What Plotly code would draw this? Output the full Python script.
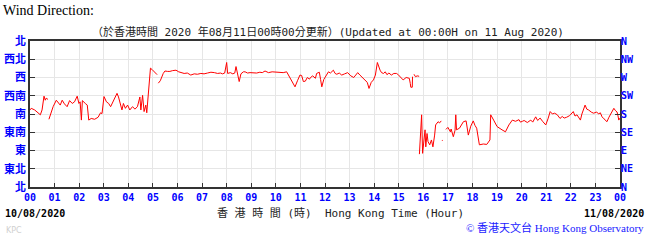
import plotly.graph_objects as go

# ---- data (hours since 00:00 10/08/2020, wind direction in degrees; None = gap)
hours = [
    0.00, 0.05, 0.19, 0.33, 0.42, 0.49, 0.57, 0.62, 0.66, 0.73, None,
    0.77, 0.94, 1.07, 1.12, 1.23, 1.31, 1.40, 1.51, 1.61, 1.72, 1.81, 1.92, 1.99,
    2.04, 2.09, 2.13, 2.20, 2.25, 2.33, 2.39, 2.49, 2.63, 2.77, 2.87, 2.93, 3.01,
    3.11, 3.20, 3.28, 3.38, 3.47, 3.54, 3.60, 3.68, 3.74, 3.80, 3.88, 3.97, 4.06,
    4.17, 4.27, 4.37, 4.47, 4.51, 4.58, 4.64, 4.71, 4.75, 4.84, 4.90, 4.96, 5.06,
    5.17, None,
    5.22, 5.30, 5.42, 5.49, 5.60, 5.69, 5.80, 5.94, 6.05, 6.27, 6.40, 6.54, 6.68,
    6.81, 6.95, 7.08, 7.22, 7.36, 7.50, 7.63, 7.75, 7.83, 7.92, 8.00, 8.04, 8.15,
    8.25, 8.33, 8.38, 8.44, 8.51, 8.58, 8.68, 8.75, 8.85, 8.95, 9.08, 9.22, 9.35,
    9.45, 9.56, 9.70, 9.85, 10.03, 10.15, 10.30, 10.44, 10.55, 10.65, 10.78, 10.88,
    10.98, 11.05, 11.12, 11.20, 11.28, 11.37, 11.41, 11.50, 11.61, 11.66, 11.77,
    11.82, 11.87, 11.95, 12.07, 12.14, 12.22, 12.34, 12.41, 12.48, 12.58, 12.68,
    12.80, 12.92, 13.05, 13.17, 13.25, 13.33, 13.42, 13.51, 13.62, 13.72, 13.79,
    13.88, 13.97, 14.05, 14.13, 14.20, 14.24, 14.30, 14.38, 14.45, 14.52, 14.60,
    14.70, 14.80, 14.91, 14.96, 15.05, 15.18, 15.30, 15.43, 15.47, 15.49, 15.55,
    15.56, None,
    15.62, 15.68, 15.75, 15.83, None,
    15.84, 15.88, 15.93, 15.97, 16.02, 16.07, 16.10, 16.15, 16.19, 16.26, 16.33,
    16.39, 16.46, 16.50, 16.60, 16.66, 16.73, None,
    16.77, 16.78, None,
    16.92, 17.00, 17.10, 17.13, 17.22, 17.29, 17.32, 17.35, 17.47, 17.55, 17.63,
    17.74, 17.83, 17.93, 18.03, 18.10, 18.17, 18.28, 18.44, 18.58, 18.71, 18.74,
    18.80, 18.86, 19.00, 19.10, 19.20, 19.34, 19.48, 19.62, 19.75, 19.89, 19.95,
    20.03, 20.10, 20.23, 20.30, 20.37, 20.45, 20.57, 20.65, 20.75, 20.85, 20.98,
    21.07, 21.16, 21.25, 21.34, 21.45, 21.56, 21.65, 21.73, 21.83, 21.95, 22.10,
    22.17, 22.25, 22.32, 22.39, 22.45, 22.58, 22.65, 22.72, 22.85, 22.93, 23.05,
    23.13, 23.20, 23.27, 23.35, 23.47, 23.55, 23.60, 23.75, 23.82, 23.88, 23.92,
    23.95, 24.00,
]
direction = [
    190, 194, 190, 182, 178, 190, 224, 214, 219, 216, None,
    167, 198, 214, 210, 202, 214, 205, 198, 213, 206, 210, 224, 206,
    210, 165, 213, 208, 206, 202, 165, 169, 167, 172, 183, 181, 223,
    210, 206, 198, 210, 222, 231, 222, 206, 190, 206, 194, 202, 190,
    198, 192, 198, 222, 190, 226, 186, 202, 183, 247, 293, 290, 284,
    277, None,
    256, 262, 280, 286, 285, 285, 287, 288, 284, 280, 281, 276, 279,
    278, 280, 279, 281, 283, 282, 280, 281, 279, 281, 307, 280, 282,
    279, 281, 297, 281, 260, 279, 284, 284, 281, 282, 281, 281, 283,
    282, 286, 282, 284, 283, 281, 282, 284, 272, 262, 247, 262,
    276, 275, 260, 261, 270, 266, 270, 274, 268, 280, 283,
    265, 247, 265, 279, 284, 281, 288, 280, 278, 281, 276,
    279, 282, 274, 270, 276, 282, 276, 270, 262, 258, 243,
    258, 264, 276, 307, 294, 288, 282, 280, 284, 277, 281,
    276, 280, 280, 278, 272, 264, 270, 268, 255, 246, 246,
    272, None,
    278, 272, 274, 273, None,
    81, 120, 178, 83, 120, 141, 99, 132, 112, 104, 116,
    99, 128, 153, 161, 158, 163, None,
    114, 116, None,
    142, 147, 136, 143, 124, 140, 178, 141, 145, 155, 161,
    163, 128, 150, 163, 152, 145, 104, 106, 105, 116, 178,
    170, 165, 149, 146, 141, 136, 153, 165, 162, 166, 160,
    162, 164, 159, 163, 165, 160, 173, 164, 170, 162, 153,
    168, 186, 180, 182, 178, 169, 174, 170, 172, 176, 186,
    175, 178, 170, 165, 180, 202, 192, 190, 184, 182, 185,
    180, 183, 173, 168, 161, 172, 178, 194, 188, 185, 175,
    165, 170,
]

dir_degrees = [0, 45, 90, 135, 180, 225, 270, 315, 360]
dir_labels_zh = ["北", "東北", "東", "東南", "南", "西南", "西", "西北", "北"]
dir_labels_en = ["N", "NE", "E", "SE", "S", "SW", "W", "NW", "N"]
hour_ticks = list(range(25))
hour_labels = ["%02d" % (h % 24) for h in hour_ticks]

BLUE = "#0000ff"
MONO = "DejaVu Sans Mono"
W, H = 656, 241
ML, MR, MT, MB = 30, 36, 41, 54

fig = go.Figure()
fig.add_trace(go.Scatter(x=hours, y=direction, mode="lines",
                         line=dict(color="#ff0000", width=1),
                         connectgaps=False, hoverinfo="skip", showlegend=False))
# invisible trace to activate the right axis
fig.add_trace(go.Scatter(x=[None], y=[None], yaxis="y2", showlegend=False))

fig.update_layout(
    width=W, height=H,
    margin=dict(l=ML, r=MR, t=MT, b=MB),
    paper_bgcolor="white", plot_bgcolor="white",
    xaxis=dict(range=[0, 24], tickvals=hour_ticks, ticktext=hour_labels,
               tickfont=dict(family=MONO, size=10, color=BLUE, weight="bold"),
               ticks="inside", ticklen=4, tickcolor="#333333",
               showgrid=True, gridcolor="#e6e6e6", gridwidth=1,
               showline=True, linecolor="#333333", linewidth=1.5, mirror=True,
               zeroline=False, fixedrange=True, automargin=False),
    yaxis=dict(range=[0, 360], tickvals=dir_degrees, ticktext=dir_labels_zh,
               tickfont=dict(family="Noto Sans CJK TC", size=11, color=BLUE, weight="bold"),
               ticks="inside", ticklen=5, tickcolor="#333333",
               showgrid=True, gridcolor="#e6e6e6", gridwidth=1,
               showline=True, linecolor="#333333", linewidth=1.5, mirror=True,
               zeroline=False, fixedrange=True, automargin=False),
    yaxis2=dict(range=[0, 360], tickvals=dir_degrees, ticktext=dir_labels_en,
                overlaying="y", side="right",
                tickfont=dict(family=MONO, size=10, color=BLUE, weight="bold"),
                ticks="inside", ticklen=5, tickcolor="#333333",
                showgrid=False, showline=False, zeroline=False, fixedrange=True,
                automargin=False),
)

ann = [
    dict(text="Wind Direction:", x=1, y=1, xanchor="left", yanchor="top",
         font=dict(family="Liberation Serif", size=14, color="black")),
    dict(text="（於香港時間 2020 年08月11日00時00分更新）(Updated at 00:00H on 11 Aug 2020)",
         x=328, y=23, xanchor="center", yanchor="top",
         font=dict(family=MONO + ", Noto Sans CJK TC", size=11, color="#222222")),
    dict(text="10/08/2020", x=3, y=206, xanchor="left", yanchor="top",
         font=dict(family=MONO, size=10, color="black", weight="bold")),
    dict(text="11/08/2020", x=646, y=206, xanchor="right", yanchor="top",
         font=dict(family=MONO, size=10, color="black", weight="bold")),
    dict(text="香 港 時 間 (時)  Hong Kong Time (Hour)", x=340, y=205,
         xanchor="center", yanchor="top",
         font=dict(family=MONO + ", Noto Sans CJK TC", size=11, color="#222222")),
    dict(text="KPC", x=4, y=224, xanchor="left", yanchor="top",
         font=dict(family="DejaVu Sans", size=8, color="#d0d0d0")),
    dict(text="© 香港天文台 Hong Kong Observatory", x=646, y=219,
         xanchor="right", yanchor="top",
         font=dict(family="Liberation Serif, Noto Sans CJK TC", size=11, color="#1a1aff")),
]
for a in ann:
    fig.add_annotation(
        text=a["text"], showarrow=False,
        xref="paper", yref="paper",
        x=(a["x"] - ML) / (W - ML - MR),
        y=(H - MB - a["y"]) / (H - MT - MB),
        xanchor=a["xanchor"], yanchor=a["yanchor"], font=a["font"],
    )

fig.write_html("out.html")
